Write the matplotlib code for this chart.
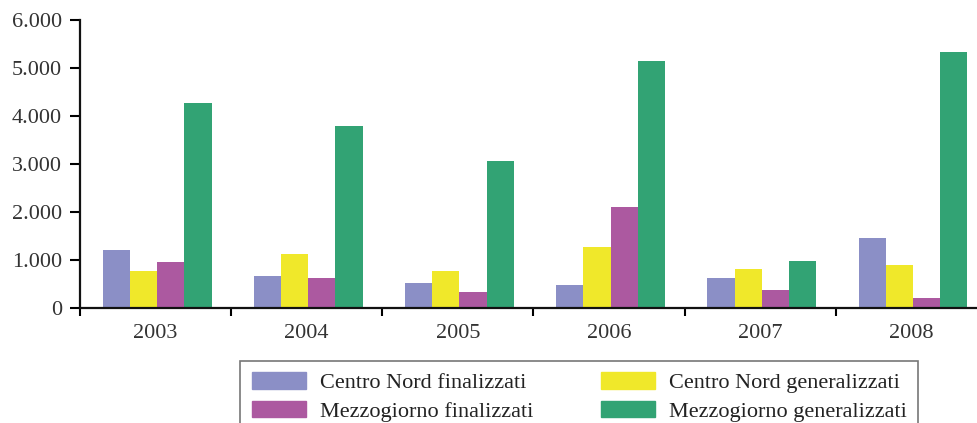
import matplotlib.pyplot as plt
import numpy as np
from matplotlib.patches import Patch
from matplotlib.ticker import FuncFormatter

# dati
anni = ['2003', '2004', '2005', '2006', '2007', '2008']
cn_finalizzati = [1200, 650, 510, 465, 610, 1450]
cn_generalizzati = [760, 1115, 760, 1260, 800, 885]
mz_finalizzati = [945, 610, 320, 2095, 360, 195]
mz_generalizzati = [4265, 3785, 3055, 5145, 970, 5330]

serie = ['Centro Nord finalizzati', 'Centro Nord generalizzati',
         'Mezzogiorno finalizzati', 'Mezzogiorno generalizzati']
colori = ['#8b8fc6', '#f0e82a', '#ac59a0', '#32a374']

plt.rcParams['font.family'] = ['Liberation Serif', 'DejaVu Serif']

W, H = 978, 423
fig = plt.figure(figsize=(W / 100, H / 100), dpi=100)
ax = fig.add_axes([80 / W, (H - 307.5) / H, 907 / W, 287.5 / H])

x = np.arange(len(anni))
width = 0.18
valori = [cn_finalizzati, cn_generalizzati, mz_finalizzati, mz_generalizzati]
for i, (vals, col) in enumerate(zip(valori, colori)):
    ax.bar(x + (i - 1.5) * width + 0.01, vals, width, color=col, label=serie[i])

ax.set_xlim(-0.5, len(anni) - 0.5)
ax.set_ylim(0, 6000)
ax.set_yticks(np.arange(0, 6001, 1000))
ax.yaxis.set_major_formatter(FuncFormatter(lambda v, p: f'{int(v):,}'.replace(',', '.')))

# tacche tra i gruppi, etichette al centro
ax.set_xticks(np.arange(-0.5, len(anni), 1.0))
ax.set_xticklabels([])
ax.set_xticks(x, minor=True)
ax.set_xticklabels(anni, minor=True)
ax.tick_params(axis='x', which='major', length=6, width=1.5, direction='out')
ax.tick_params(axis='x', which='minor', length=0, pad=12, labelsize=16,
               labelcolor='#333333')
ax.tick_params(axis='y', length=7, width=1.5, direction='out', labelsize=16, pad=6,
               labelcolor='#333333')

for s in ['top', 'right']:
    ax.spines[s].set_visible(False)
for s in ['left', 'bottom']:
    ax.spines[s].set_linewidth(1.6)
    ax.spines[s].set_color('#111111')

handles = [Patch(color=colori[0]), Patch(color=colori[2]),
           Patch(color=colori[1]), Patch(color=colori[3])]
labels = [serie[0], serie[2], serie[1], serie[3]]
leg = fig.legend(handles, labels, ncol=2, loc='upper left',
                 bbox_to_anchor=(240.5 / W, 1 - 361 / H), borderaxespad=0,
                 fontsize=16, frameon=True, fancybox=False,
                 handlelength=2.43, handleheight=0.77, handletextpad=0.63,
                 columnspacing=3.05, labelspacing=0.35, borderpad=0.5)
leg.get_frame().set_edgecolor('#555555')
leg.get_frame().set_linewidth(1.2)
for t in leg.get_texts():
    t.set_color('#222222')

plt.savefig('out.png', dpi=100)
plt.close()
